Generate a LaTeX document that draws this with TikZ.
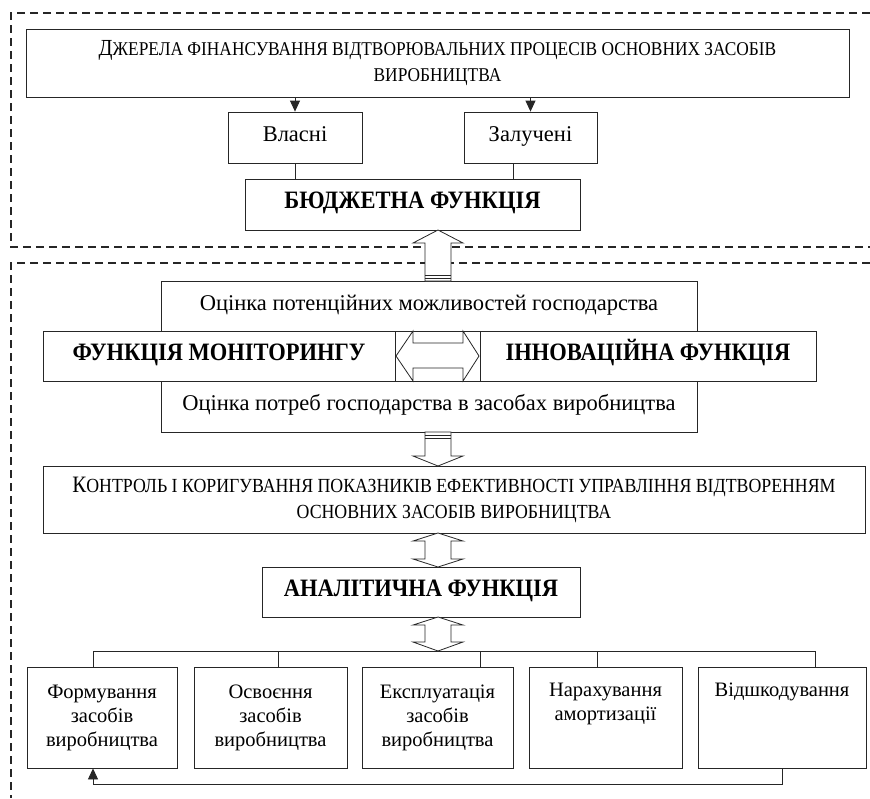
\documentclass[tikz,border=0pt]{standalone}
\usepackage{fontspec}
\setmainfont{Liberation Serif}
\newfontfamily\scfont[FakeStretch=0.89]{Liberation Serif}
\newfontfamily\bfcond[FakeStretch=0.9]{Liberation Serif}
\usetikzlibrary{arrows.meta}
\begin{document}
\begin{tikzpicture}[x=1pt,y=-1pt,
  bx/.style={draw=black!85, line width=0.8pt, inner sep=0pt, align=center, font=\fontsize{20.5}{24}\selectfont},
  big/.style={font=\fontsize{22.5}{26}\selectfont, text height=15pt, text depth=7pt},
  bold/.style={font=\bfcond\bfseries\fontsize{25}{27}\selectfont, text height=16.5pt, text depth=8pt},
  smallcaps/.style={font=\scfont\fontsize{20}{26.5}\selectfont},
  ln/.style={draw=black!85, line width=0.8pt},
  tip/.style={ln, -{Triangle[length=11pt,width=10pt]}},
  frame/.style={draw=black!85, line width=1.4pt, dash pattern=on 8pt off 5pt},
  harrow/.style={draw=black!85, line width=0.8pt, fill=white, line join=miter}]
\useasboundingbox (0,0) rectangle (870,798);
% dashed frames
\draw[frame] (870,13) -- (11,13) -- (11,247) -- (870,247);
\draw[frame] (870,263) -- (11,263) -- (11,798);
% top part
\node[bx, smallcaps, font=\scfont\fontsize{19.5}{26.5}\selectfont, minimum width=823pt, minimum height=68pt] (dz) at (437.5,63)
  {{\fontsize{23}{26.5}\selectfont Д}ЖЕРЕЛА ФІНАНСУВАННЯ ВІДТВОРЮВАЛЬНИХ ПРОЦЕСІВ ОСНОВНИХ ЗАСОБІВ\\ВИРОБНИЦТВА};
\node[bx, big, minimum width=134pt, minimum height=51pt] (vl) at (295,137.5) {Власні};
\node[bx, big, minimum width=133pt, minimum height=51pt] (zl) at (530.5,137.5) {Залучені};
\node[bx, bold, minimum width=335pt, minimum height=51pt] (bud) at (412.5,204.5) {БЮДЖЕТНА ФУНКЦІЯ};
\draw[tip] (dz.south -| vl.north) -- (vl.north);
\draw[tip] (dz.south -| zl.north) -- (zl.north);
\coordinate (zlx) at (513,0);
\draw[ln] (vl.south) -- (vl.south |- bud.north);
\draw[ln] (zl.south -| zlx) -- (bud.north -| zlx);
% middle part
\node[bx, big, minimum width=536pt, minimum height=50pt] (op) at (429,306) {Оцінка потенційних можливостей господарства};
\node[bx, bold, minimum width=352pt, minimum height=50pt] (mon) at (219,356) {ФУНКЦІЯ МОНІТОРИНГУ};
\node[bx, bold, minimum width=336pt, minimum height=50pt] (inn) at (648,356) {ІННОВАЦІЙНА ФУНКЦІЯ};
\node[bx, big, minimum width=536pt, minimum height=51pt] (opt) at (429,406.5) {Оцінка потреб господарства в засобах виробництва};
\node[bx, smallcaps, minimum width=822pt, minimum height=67pt] (kon) at (454,500)
  {{\fontsize{23.5}{26}\selectfont К}ОНТРОЛЬ І КОРИГУВАННЯ ПОКАЗНИКІВ ЕФЕКТИВНОСТІ УПРАВЛІННЯ ВІДТВОРЕННЯМ\\ОСНОВНИХ ЗАСОБІВ ВИРОБНИЦТВА};
\node[bx, bold, minimum width=318pt, minimum height=50pt] (an) at (421,592) {АНАЛІТИЧНА ФУНКЦІЯ};
% bottom boxes
\node[bx, minimum width=150pt, minimum height=101pt] (b1) at (102,717.5) {Формування\\засобів\\виробництва};
\node[bx, minimum width=153pt, minimum height=101pt] (b2) at (270.5,717.5) {Освоєння\\засобів\\виробництва};
\node[bx, minimum width=151pt, minimum height=101pt] (b3) at (437.5,717.5) {Експлуатація\\засобів\\виробництва};
\node[bx, minimum width=153pt, minimum height=101pt] (b4) at (605.5,717.5) {Нарахування\\амортизації\\\strut};
\node[bx, minimum width=168pt, minimum height=101pt] (b5) at (782,717.5) {Відшкодування\\\strut\\\strut};
% bus
\coordinate (k1) at (93,651);
\coordinate (k2) at (278,651);
\coordinate (k3) at (480,651);
\coordinate (k4) at (597,651);
\coordinate (k5) at (815,651);
\draw[ln] (k1) -- (k5);
\draw[ln] (k1) -- (k1 |- b1.north);
\draw[ln] (k2) -- (k2 |- b2.north);
\draw[ln] (k3) -- (k3 |- b3.north);
\draw[ln] (k4) -- (k4 |- b4.north);
\draw[ln] (k5) -- (k5 |- b5.north);
% feedback
\coordinate (fb) at (93,784);
\draw[tip] (b5.south) |- (fb) -- (fb |- b1.south);
% hollow arrows
\draw[harrow] (438,230) -- (463,243) -- (451,243) -- (451,281) -- (425,281) -- (425,243) -- (413,243) -- cycle;
\draw[ln] (425,275.5) -- (451,275.5) (425,278.5) -- (451,278.5);
\draw[harrow] (396,356) -- (413,331) -- (413,343) -- (463,343) -- (463,331) -- (479,356) -- (463,381) -- (463,368) -- (413,368) -- (413,381) -- cycle;
\draw[harrow] (425,432) -- (451,432) -- (451,456) -- (463,456) -- (438,466) -- (413,456) -- (425,456) -- cycle;
\draw[ln] (425,435.5) -- (451,435.5) (425,438.5) -- (451,438.5);
\draw[harrow] (438,533) -- (463,541) -- (451,541) -- (451,559) -- (463,559) -- (438,567) -- (413,559) -- (425,559) -- (425,541) -- (413,541) -- cycle;
\draw[harrow] (438,617) -- (463,625) -- (451,625) -- (451,642) -- (463,642) -- (438,651) -- (413,642) -- (425,642) -- (425,625) -- (413,625) -- cycle;
\end{tikzpicture}
\end{document}
